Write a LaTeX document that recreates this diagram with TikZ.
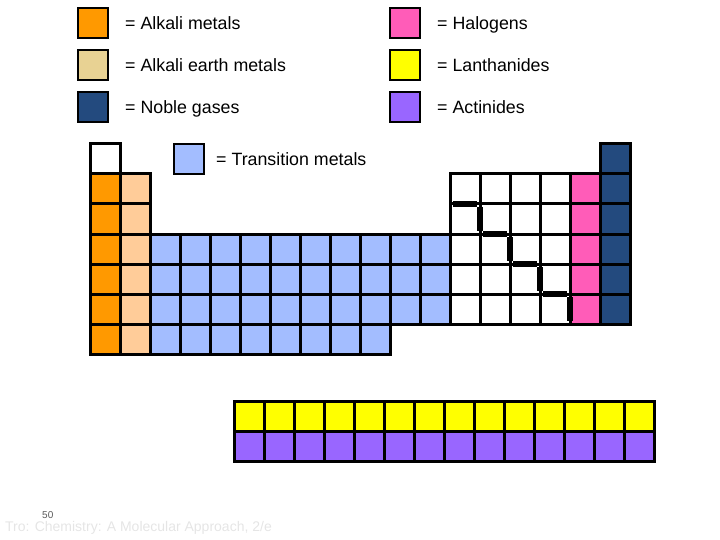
\documentclass[tikz,border=0pt]{standalone}
\usepackage{fontspec}
\setmainfont{Liberation Sans}
\usetikzlibrary{positioning}

\definecolor{alkali}{HTML}{FF9900}
\definecolor{earthkey}{HTML}{E8D293}
\definecolor{earth}{HTML}{FFCC99}
\definecolor{noble}{HTML}{234A7E}
\definecolor{halogen}{HTML}{FF5CB8}
\definecolor{lanth}{HTML}{FFFF00}
\definecolor{actin}{HTML}{9966FF}
\definecolor{trans}{HTML}{A3BDFF}

\begin{document}
\begin{tikzpicture}[
  x=1pt, y=-1pt,
  font=\fontsize{17.8}{20}\selectfont,
  cell/.style={draw, line width=3pt, minimum size=30pt, inner sep=0pt},
  key/.style={draw, line width=2pt, minimum size=30pt, inner sep=0pt},
  keytext/.style={anchor=west, inner sep=0pt, text height=12.5pt, text depth=0pt},
  stair/.style={line width=5.5pt}
]
\useasboundingbox (0,0) rectangle (720,540);

% legend
\node[key, fill=alkali]   (kalk)  at (93,23)  {};
\node[key, fill=earthkey] (kear)  at (93,65)  {};
\node[key, fill=noble]    (knob)  at (93,107) {};
\node[key, fill=halogen]  (khal)  at (405,23)  {};
\node[key, fill=lanth]    (klan)  at (405,65)  {};
\node[key, fill=actin]    (kact)  at (405,107) {};
\node[key, fill=trans]    (ktra)  at (189,159) {};

\node[keytext, right=16pt of kalk] (talk) {= Alkali metals};
\node[keytext, right=16pt of kear] (tear) {= Alkali earth metals};
\node[keytext, right=16pt of knob] (tnob) {= Noble gases};
\node[keytext, right=16pt of khal] (thal) {= Halogens};
\node[keytext, right=16pt of klan] (tlan) {= Lanthanides};
\node[keytext, right=16pt of kact] (tact) {= Actinides};
\node[keytext, right=11pt of ktra] (ttra) {= Transition metals};

% main table, cell (r,c) centred at (75+30c, 129+30r)
\node[cell, fill=white] (c-1-1)  at (105,159) {};
\node[cell, fill=noble] (c-1-18) at (615,159) {};
\foreach \r in {2,...,7} {
  \node[cell, fill=alkali] (c-\r-1) at (105,129+30*\r) {};
  \node[cell, fill=earth]  (c-\r-2) at (135,129+30*\r) {};
}
\foreach \r in {2,...,6} {
  \foreach \c in {13,...,16}
    \node[cell, fill=white] (c-\r-\c) at (75+30*\c,129+30*\r) {};
  \node[cell, fill=halogen] (c-\r-17) at (585,129+30*\r) {};
  \node[cell, fill=noble]   (c-\r-18) at (615,129+30*\r) {};
}
\foreach \r in {4,5,6}
  \foreach \c in {3,...,12}
    \node[cell, fill=trans] (c-\r-\c) at (75+30*\c,129+30*\r) {};
\foreach \c in {3,...,10}
  \node[cell, fill=trans] (c-7-\c) at (75+30*\c,339) {};

% f-block
\foreach \i in {1,...,14} {
  \node[cell, fill=lanth] (la-\i) at (219+30*\i,416) {};
  \node[cell, fill=actin] (ac-\i) at (219+30*\i,446) {};
}

% metal / nonmetal staircase
\foreach \k in {0,1,2,3} {
  \draw[stair] (453+30*\k,204+30*\k) -- (477+30*\k,204+30*\k);
  \draw[stair] (480+30*\k,207+30*\k) -- (480+30*\k,231+30*\k);
}

% footer
\node[anchor=west, inner sep=0pt, font=\fontsize{10}{11}\selectfont, text=black!65] (pnum) at (42,515) {50};
\node[anchor=west, inner sep=0pt, font=\fontsize{14}{16}\selectfont, text=black!10] (src) at (5,528) {Tro: Chemistry: A Molecular Approach, 2/e};
\end{tikzpicture}
\end{document}
